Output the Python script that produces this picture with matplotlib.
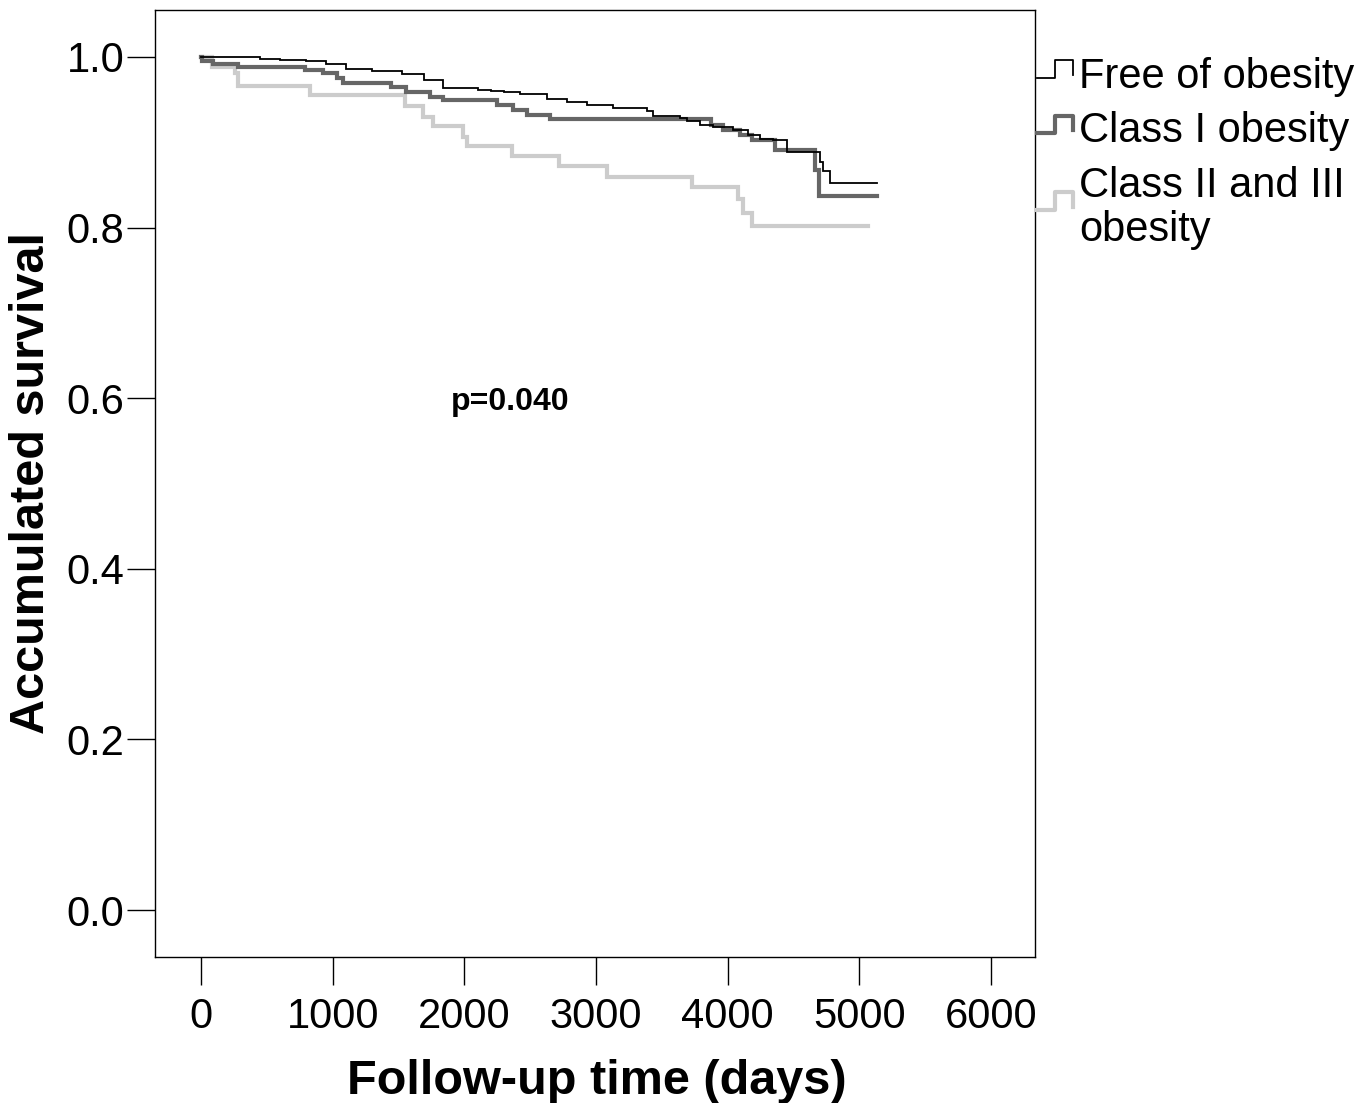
import matplotlib
matplotlib.use("Agg")
import matplotlib.pyplot as plt
from matplotlib.lines import Line2D

plt.rcParams['font.family'] = ['Liberation Sans', 'DejaVu Sans']

# ---- data ----
free_t = [0, 450, 600, 800, 950, 1100, 1300, 1530, 1690, 1840, 2100, 2200, 2300,
          2420, 2630, 2780, 2930, 3130, 3390, 3430, 3640, 3690, 3790, 3890, 4040,
          4150, 4245, 4345, 4450, 4700, 4725, 4775, 5134]
free_s = [1.000, 0.998, 0.996, 0.995, 0.992, 0.986, 0.983, 0.980, 0.973, 0.964,
          0.961, 0.960, 0.9585, 0.956, 0.951, 0.9475, 0.944, 0.940, 0.9365, 0.931,
          0.928, 0.925, 0.920, 0.9175, 0.9145, 0.9085, 0.904, 0.9025, 0.888, 0.877,
          0.866, 0.8525, 0.8525]

c1_t = [0, 10, 90, 280, 790, 930, 1030, 1080, 1440, 1560, 1740, 1840, 2248, 2370,
        2476, 2651, 3870, 3965, 4094, 4185, 4360, 4663, 4694, 5134]
c1_s = [1.000, 0.995, 0.992, 0.9886, 0.9848, 0.981, 0.975, 0.970, 0.965, 0.959,
        0.9535, 0.9496, 0.9437, 0.9378, 0.932, 0.9273, 0.920, 0.914, 0.9085, 0.9026,
        0.891, 0.8675, 0.837, 0.837]

c23_t = [0, 84, 258, 281, 828, 1549, 1686, 1762, 1990, 2020, 2362, 2719, 3083,
         3729, 4078, 4116, 4185, 5066]
c23_s = [1.000, 0.9886, 0.981, 0.966, 0.9554, 0.943, 0.930, 0.919, 0.9065, 0.8956,
         0.8839, 0.8721, 0.8596, 0.8472, 0.833, 0.8174, 0.802, 0.802]

group_labels = ["Free of obesity", "Class I obesity", "Class II and III\nobesity"]
x_ticks = [0, 1000, 2000, 3000, 4000, 5000, 6000]
y_ticks = [0.0, 0.2, 0.4, 0.6, 0.8, 1.0]
p_text = "p=0.040"

# ---- styling ----
colors = ["#000000", "#666666", "#cccccc"]
widths = [1.3, 3.0, 3.0]

W, H = 1370, 1103
fig = plt.figure(figsize=(W / 100, H / 100), dpi=100)
ax = fig.add_axes([155 / W, 1 - 957 / H, (1035 - 155) / W, (957 - 10) / H])

series = [(free_t, free_s), (c1_t, c1_s), (c23_t, c23_s)]
for (t, s), c, lw in reversed(list(zip(series, colors, widths))):
    ax.step(t, s, where="post", color=c, lw=lw, solid_joinstyle="miter")

ax.set_xlim(-349, 6333)
ax.set_ylim(-0.055, 1.055)
ax.set_xticks(x_ticks)
ax.set_xticklabels([str(v) for v in x_ticks])
ax.set_yticks(y_ticks)
ax.set_yticklabels([f"{v:.1f}" for v in y_ticks])
ax.tick_params(direction="out", length=20, width=1.0, labelsize=30)
ax.tick_params(axis="x", pad=9)
ax.tick_params(axis="y", pad=2)
for sp in ax.spines.values():
    sp.set_linewidth(1.0)

ax.set_xlabel("Follow-up time (days)", fontsize=35, fontweight="bold", va="center")
ax.xaxis.set_label_coords((597 - 155) / 880, (957 - 1081) / 947)
ax.set_ylabel("Accumulated survival", fontsize=35, fontweight="bold", va="center")
ax.yaxis.set_label_coords((32 - 155) / 880, (957 - 483) / 947)

ax.text(2347, 0.595, p_text, fontsize=23, fontweight="bold", ha="center", va="center")

# ---- legend drawn outside the axes (step symbols) ----
def fx(px):
    return px / W

def fy(py):
    return 1 - py / H

sym_rows = [(78, 60), (133, 116), (210, 192)]
for (lo, hi), c, lw in zip(sym_rows, colors, widths):
    xs = [1037, 1055, 1055, 1073, 1073]
    ys = [lo, lo, hi, hi, lo - 3]
    fig.add_artist(Line2D([fx(v) for v in xs], [fy(v) for v in ys],
                          color=c, lw=lw, transform=fig.transFigure))
for txt_y, lab in zip([77, 131, 208], group_labels):
    fig.text(fx(1079), fy(txt_y), lab, fontsize=30, ha="left", va="center",
             linespacing=1.12)

fig.savefig("out.png", dpi=100)
